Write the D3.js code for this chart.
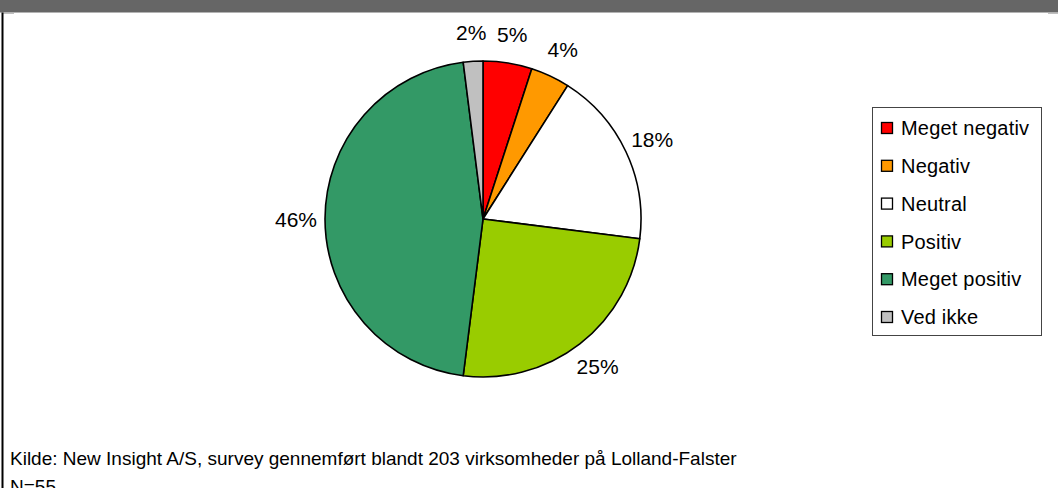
<!DOCTYPE html>
<html>
<head>
<meta charset="utf-8">
<script src="https://cdn.jsdelivr.net/npm/d3@7/dist/d3.min.js"></script>
<style>
  html, body { margin: 0; padding: 0; background: #fff; }
  svg { display: block; font-family: "Liberation Sans", Arial, sans-serif; }
</style>
</head>
<body>
<svg id="chart" width="1058" height="488"></svg>
<script>
// Share of answers in percent (N=55)
const categories = ["Meget negativ", "Negativ", "Neutral", "Positiv", "Meget positiv", "Ved ikke"];
const percents = [5, 4, 18, 25, 46, 2];
const colors = ["#FF0000", "#FF9900", "#FFFFFF", "#99CC00", "#339966", "#C0C0C0"];
const sourceLines = [
  "Kilde: New Insight A/S, survey gennemført blandt 203 virksomheder på Lolland-Falster",
  "N=55"
];

const W = 1058, H = 488;
const svg = d3.select("#chart");

// Frame: dark header strip and left rule
svg.append("rect").attr("x", 0).attr("y", 0).attr("width", W).attr("height", 12.5).attr("fill", "#666666");
svg.append("rect").attr("x", 3).attr("y", 12.5).attr("width", 11).attr("height", 1.3).attr("fill", "#b0b0b0");
svg.append("rect").attr("x", 1048).attr("y", 12.5).attr("width", 10).attr("height", 1.3).attr("fill", "#b0b0b0");
svg.append("rect").attr("x", 1.5).attr("y", 12.5).attr("width", 2).attr("height", H).attr("fill", "#000");

// Pie
const cx = 483, cy = 219, r = 158;
const pie = d3.pie().sort(null).value(d => d)(percents);
const arc = d3.arc().innerRadius(0).outerRadius(r);

const g = svg.append("g").attr("transform", `translate(${cx},${cy})`);
g.selectAll("path.slice")
  .data(pie)
  .join("path")
  .attr("class", "slice")
  .attr("d", arc)
  .attr("fill", (d, i) => colors[i])
  .attr("stroke", "#000")
  .attr("stroke-width", 1.6)
  .attr("stroke-linejoin", "round");

// Percentage labels outside each slice
const labelArc = d3.arc().innerRadius(r + 29).outerRadius(r + 29);
g.selectAll("text.pct")
  .data(pie)
  .join("text")
  .attr("class", "pct")
  .attr("transform", d => {
    const [x, y] = labelArc.centroid(d);
    return `translate(${x},${y})`;
  })
  .attr("text-anchor", "middle")
  .attr("dy", "0.36em")
  .attr("font-size", 21)
  .attr("fill", "#000")
  .text(d => d.value + "%");

// Legend
const lg = svg.append("g").attr("transform", "translate(872,107)");
lg.append("rect").attr("x", 0.5).attr("y", 0.5).attr("width", 169).attr("height", 228)
  .attr("fill", "#fff").attr("stroke", "#444").attr("stroke-width", 1);
const rowY = d3.scalePoint().domain(categories).range([21, 210]);
const items = lg.selectAll("g.item").data(categories).join("g")
  .attr("class", "item")
  .attr("transform", d => `translate(0,${rowY(d)})`);
items.append("rect")
  .attr("x", 9.5).attr("y", -5.5).attr("width", 11).attr("height", 11)
  .attr("fill", (d, i) => colors[i]).attr("stroke", "#000").attr("stroke-width", 1.3);
items.append("text")
  .attr("x", 29).attr("dy", "0.36em")
  .attr("font-size", 20)
  .attr("letter-spacing", "0.2px")
  .attr("fill", "#000")
  .text(d => d);

// Source note
svg.selectAll("text.src").data(sourceLines).join("text")
  .attr("class", "src")
  .attr("x", 10)
  .attr("y", (d, i) => 465 + i * 27.5)
  .attr("font-size", 19)
  .attr("fill", "#000")
  .text(d => d);
</script>
</body>
</html>
